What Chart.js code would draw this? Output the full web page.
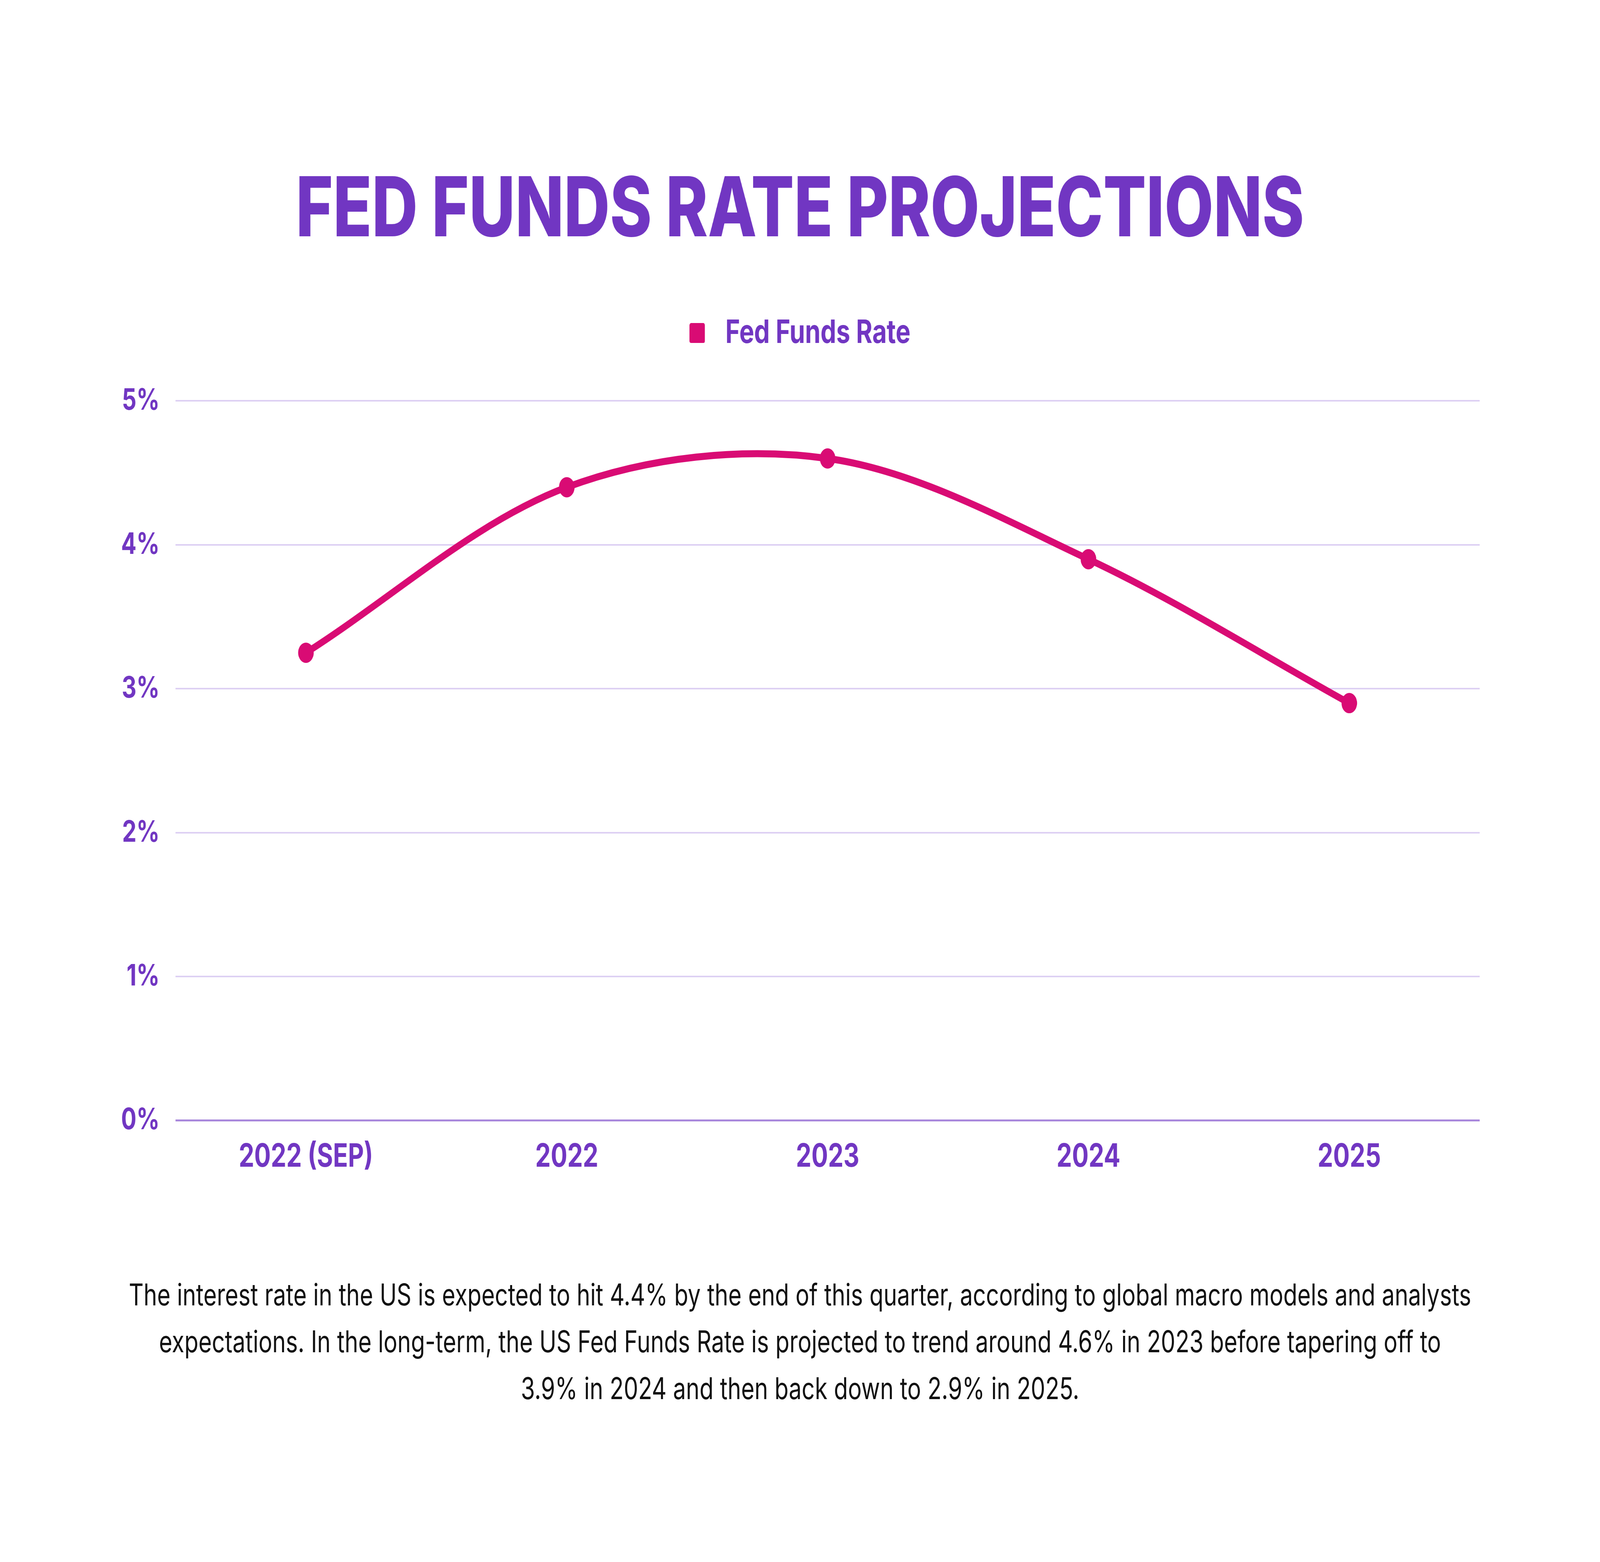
<!DOCTYPE html>
<html>
<head>
<meta charset="utf-8">
<script src="https://cdn.jsdelivr.net/npm/chart.js@4"></script>
<style>
  html, body { margin: 0; padding: 0; background: #ffffff; overflow: hidden; }
  #stage { position: absolute; left: 0; top: 0; width: 5333px; height: 3999px; transform-origin: 0 0; background: #ffffff; }
  #c { position: absolute; left: 0; top: 0; }
  #footer {
    position: absolute; left: 0; width: 5333px; top: 3254px;
    text-align: center; font-family: Inter, "Noto Sans", sans-serif;
    font-size: 76.5px; line-height: 120px; color: #111111;
  }
</style>
</head>
<body>
<div id="stage">
<canvas id="c" width="5333" height="3999"></canvas>
<div id="footer">
The interest rate in the US is expected to hit 4.4% by the end of this quarter, according to global macro models and analysts<br>
expectations. In the long-term, the US Fed Funds Rate is projected to trend around 4.6% in 2023 before tapering off to<br>
3.9% in 2024 and then back down to 2.9% in 2025.
</div>
</div>
<script>
const titleText = "FED FUNDS RATE PROJECTIONS";
const seriesName = "Fed Funds Rate";
const categories = ["2022 (SEP)", "2022", "2023", "2024", "2025"];
const rateValues = [3.25, 4.4, 4.6, 3.9, 2.9];
const yTicks = [0, 1, 2, 3, 4, 5];

const PURPLE = "#7136C2";
const MAGENTA = "#D90B74";
const FONT = "Inter, 'Noto Sans', sans-serif";

// The design is 5333x3999; the browser viewport may be clamped smaller, so map the design onto the full viewport.
const W = 5333, H = 3999;
const vw = window.innerWidth || W, vh = window.innerHeight || H;
document.body.style.width = vw + "px";
document.body.style.height = vh + "px";
document.getElementById("stage").style.transform = "scale(" + (vw / W) + "," + (vh / H) + ")";

// legend marker: rounded square on the left of a wider transparent image (adds the gap before the text)
const marker = document.createElement("canvas");
marker.width = 78; marker.height = 51;
(function () {
  const g = marker.getContext("2d");
  g.fillStyle = MAGENTA;
  g.beginPath();
  if (g.roundRect) g.roundRect(0, 0, 51, 51, 5); else g.rect(0, 0, 51, 51);
  g.fill();
})();

new Chart(document.getElementById("c"), {
  type: "line",
  data: {
    labels: categories,
    datasets: [{
      label: seriesName,
      data: rateValues,
      xAxisID: "x",
      yAxisID: "y",
      borderColor: MAGENTA,
      backgroundColor: MAGENTA,
      borderWidth: 18,
      pointRadius: 26,
      pointBorderWidth: 0,
      pointBackgroundColor: MAGENTA,
      tension: 0.33,
      fill: false
    }]
  },
  options: {
    responsive: false,
    devicePixelRatio: 1,
    animation: false,
    layout: { padding: { left: 401, right: 401, top: 0, bottom: 942 } },
    plugins: {
      title: {
        display: true,
        text: titleText,
        color: PURPLE,
        font: { family: FONT, size: 212, weight: "800" },
        padding: { top: 414, bottom: 133 }
      },
      legend: {
        display: true,
        labels: {
          color: PURPLE,
          font: { family: FONT, size: 83, weight: "700" },
          usePointStyle: true,
          pointStyleWidth: 78,
          boxHeight: 51,
          padding: 10,
          generateLabels(chart) {
            const items = Chart.defaults.plugins.legend.labels.generateLabels(chart);
            items.forEach(i => { i.lineWidth = 0; i.pointStyle = marker; i.fillStyle = MAGENTA; i.strokeStyle = MAGENTA; });
            return items;
          }
        }
      },
      tooltip: { enabled: false }
    },
    scales: {
      x: {
        offset: true,
        grid: { display: false, drawTicks: false },
        border: { display: false },
        ticks: {
          color: PURPLE,
          font: { family: FONT, size: 82, weight: "700" },
          padding: 45
        }
      },
      gap: {
        type: "category",
        position: "top",
        labels: categories,
        grid: { display: false, drawTicks: false },
        border: { display: false },
        ticks: { display: false },
        afterFit(scale) { scale.height = 122; }
      },
      y: {
        min: 0,
        max: 5,
        afterBuildTicks(scale) { scale.ticks = yTicks.map(v => ({ value: v })); },
        afterFit(scale) { scale.width = 184; },
        grid: {
          drawTicks: false,
          color: ctx => (ctx.tick && ctx.tick.value === 0) ? "#A988DC" : "#DDD0F3",
          lineWidth: ctx => (ctx.tick && ctx.tick.value === 0) ? 5 : 4
        },
        border: { display: false },
        ticks: {
          color: PURPLE,
          font: { family: FONT, size: 76, weight: "700" },
          padding: 53,
          callback: v => v + "%"
        }
      }
    }
  }
});
</script>
</body>
</html>
